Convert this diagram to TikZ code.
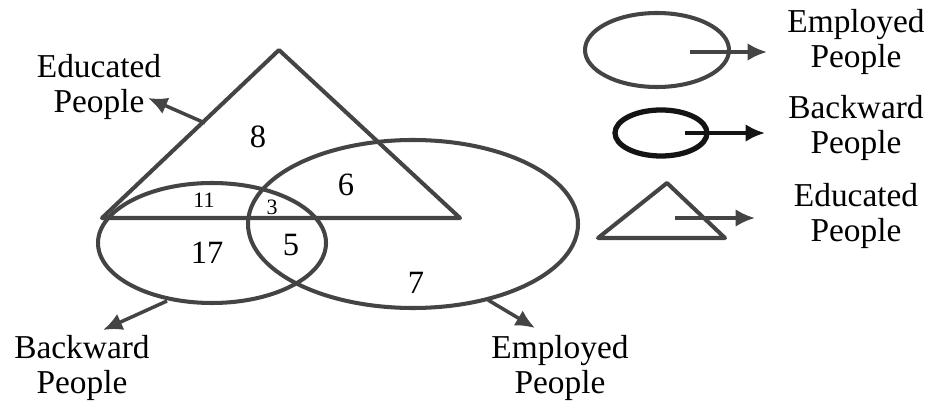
\documentclass[tikz,border=0pt]{standalone}
\usepackage{fontspec}
\setmainfont{Liberation Serif}
\usepackage{xcolor}
\definecolor{inkgray}{RGB}{68, 68, 68}
\definecolor{inkblack}{RGB}{20, 20, 20}
\usetikzlibrary{arrows.meta}

\begin{document}
\begin{tikzpicture}[x=0.02cm, y=-0.02cm,
  set/.style={draw=inkgray, line width=2.3pt, line join=round},
  lbl/.style={align=center, font=\fontsize{19}{20}\selectfont, inner sep=0pt},
  num/.style={font=\fontsize{18.5}{20}\selectfont, inner sep=0pt},
  smallnum/.style={font=\fontsize{12.5}{14}\selectfont, inner sep=0pt},
  arr/.style={draw=inkgray, line width=2pt, -{Latex[length=11pt, width=10pt]}},
]
\useasboundingbox (0,0) rectangle (936,408);

% Educated people (triangle)
\draw[set] (279,50) -- (102,218) -- (460,218) -- cycle;
% Backward people (left ellipse)
\draw[set] (212,243) ellipse [x radius=114, y radius=60];
% Employed people (right ellipse)
\draw[set] (413,224) ellipse [x radius=165, y radius=84];

% Region counts
\node[num] (n8) at (258,137) {8};
\node[num] (n6) at (346,185) {6};
\node[smallnum] (n11) at (204,200) {11};
\node[smallnum] (n3) at (272,207) {3};
\node[num] (n17) at (207,253) {17};
\node[num] (n5) at (291,245) {5};
\node[num] (n7) at (416,283) {7};

% Labels of the sets
\node[lbl] (edu) at (99,87) {Educated\\People};
\node[lbl] (back) at (82,368) {Backward\\People};
\node[lbl] (emp) at (560,368) {Employed\\People};
\coordinate (eduA) at (205,123);
\coordinate (eduB) at (148,98);
\coordinate (backA) at (167,301);
\coordinate (backB) at (103,330);
\coordinate (empA) at (488,300);
\coordinate (empB) at (535,328);
\draw[arr] (eduA) -- (eduB);
\draw[arr] (backA) -- (backB);
\draw[arr] (empA) -- (empB);

% Legend
\draw[set] (657,50) ellipse [x radius=72, y radius=37];
\draw[draw=inkblack, line width=3pt] (661,133) ellipse [x radius=46, y radius=23];
\draw[set] (667,183) -- (598,238) -- (725,238) -- cycle;
\coordinate (k1A) at (690,52);
\coordinate (k1B) at (767,52);
\coordinate (k2A) at (685,133);
\coordinate (k2B) at (765,133);
\coordinate (k3A) at (675,218);
\coordinate (k3B) at (755,218);
\draw[arr] (k1A) -- (k1B);
\draw[arr, draw=inkblack] (k2A) -- (k2B);
\draw[arr] (k3A) -- (k3B);
\node[lbl] (k1) at (856,42) {Employed\\People};
\node[lbl] (k2) at (856,128) {Backward\\People};
\node[lbl] (k3) at (856,216) {Educated\\People};
\end{tikzpicture}
\end{document}
